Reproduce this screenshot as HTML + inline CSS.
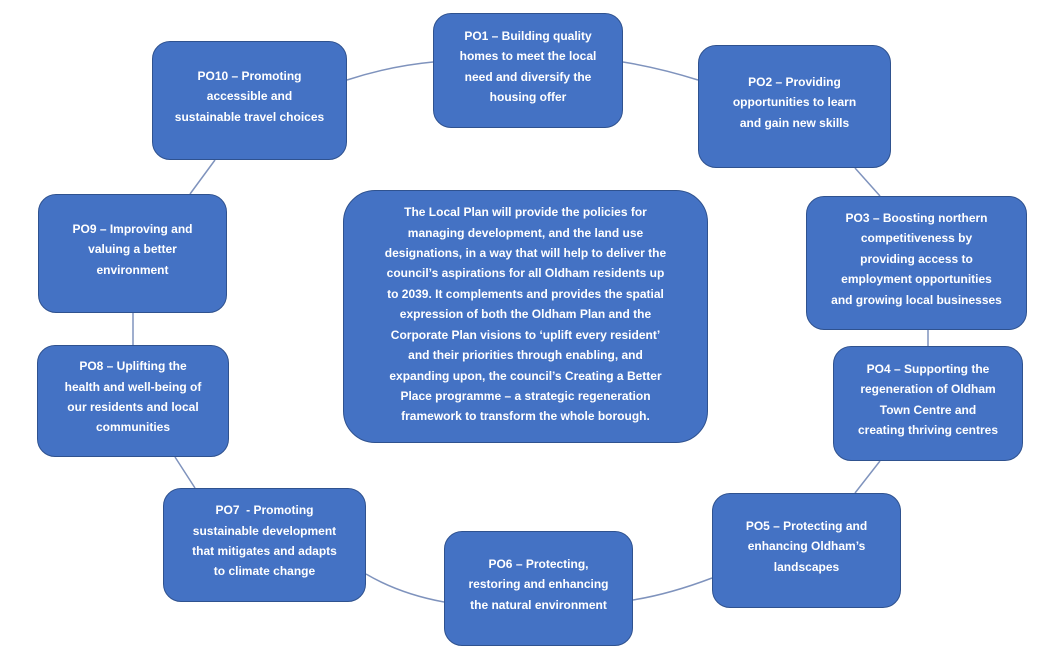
<!DOCTYPE html>
<html><head><meta charset="utf-8"><style>
body{margin:0;width:1055px;height:664px;background:#fff;position:relative;overflow:hidden;font-family:"Liberation Sans",sans-serif}
.b{position:absolute;box-sizing:border-box;background:#4472C4;border:1.5px solid #2F528F;border-radius:18px;color:#fff;font-weight:bold;font-size:12px;line-height:20.4px;text-align:center;display:flex;align-items:center;justify-content:center;padding:0 4px 8px;white-space:nowrap}
svg{position:absolute;left:0;top:0}
</style></head><body>
<svg width="1055" height="664"><g stroke="#7F93BD" stroke-width="1.5" fill="none">
<path d="M347 80 Q390 66 433 62"/>
<path d="M623 62 Q660 68 698 80"/>
<path d="M855 168 L880 196"/>
<path d="M928 330 L928 346"/>
<path d="M880 461 L855 493"/>
<path d="M712 578 Q670 594 633 600"/>
<path d="M444 602 Q400 594 366 574"/>
<path d="M195 488 L175 457"/>
<path d="M133 313 L133 345"/>
<path d="M190 194 L215 160"/>
</g></svg>
<div class="b" style="left:433px;top:13px;width:190px;height:115px">PO1 – Building quality<br>homes to meet the local<br>need and diversify the<br>housing offer</div>
<div class="b" style="left:698px;top:45px;width:193px;height:123px">PO2 – Providing<br>opportunities to learn<br>and gain new skills</div>
<div class="b" style="left:806px;top:196px;width:221px;height:134px">PO3 – Boosting northern<br>competitiveness by<br>providing access to<br>employment opportunities<br>and growing local businesses</div>
<div class="b" style="left:833px;top:346px;width:190px;height:115px">PO4 – Supporting the<br>regeneration of Oldham<br>Town Centre and<br>creating thriving centres</div>
<div class="b" style="left:712px;top:493px;width:189px;height:115px">PO5 – Protecting and<br>enhancing Oldham’s<br>landscapes</div>
<div class="b" style="left:444px;top:531px;width:189px;height:115px">PO6 – Protecting,<br>restoring and enhancing<br>the natural environment</div>
<div class="b" style="left:163px;top:488px;width:203px;height:114px">PO7 &nbsp;- Promoting<br>sustainable development<br>that mitigates and adapts<br>to climate change</div>
<div class="b" style="left:37px;top:345px;width:192px;height:112px">PO8 – Uplifting the<br>health and well-being of<br>our residents and local<br>communities</div>
<div class="b" style="left:38px;top:194px;width:189px;height:119px">PO9 – Improving and<br>valuing a better<br>environment</div>
<div class="b" style="left:152px;top:41px;width:195px;height:119px">PO10 – Promoting<br>accessible and<br>sustainable travel choices</div>
<div class="b" style="left:343px;top:190px;width:365px;height:253px;border-radius:32px;padding:0 4px 4px">The Local Plan will provide the policies for<br>managing development, and the land use<br>designations, in a way that will help to deliver the<br>council’s aspirations for all Oldham residents up<br>to 2039. It complements and provides the spatial<br>expression of both the Oldham Plan and the<br>Corporate Plan visions to ‘uplift every resident’<br>and their priorities through enabling, and<br>expanding upon, the council’s Creating a Better<br>Place programme – a strategic regeneration<br>framework to transform the whole borough.</div>
</body></html>
